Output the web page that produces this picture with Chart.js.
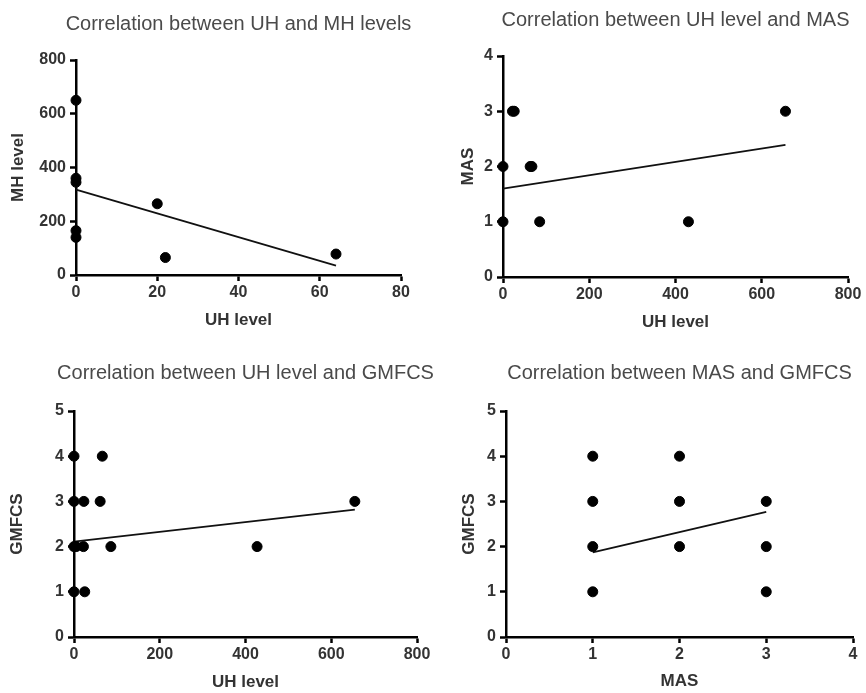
<!DOCTYPE html>
<html><head><meta charset="utf-8">
<script src="https://cdn.jsdelivr.net/npm/chart.js@4.4.1/dist/chart.umd.min.js"></script>
<style>
html,body{margin:0;padding:0;background:#fff;}
#wrap{position:relative;width:866px;height:693px;}
#wrap canvas{position:absolute;left:0;top:0;}
</style></head><body>
<div id="wrap">
<canvas id="c1" width="866" height="693"></canvas>
<canvas id="c2" width="866" height="693"></canvas>
<canvas id="c3" width="866" height="693"></canvas>
<canvas id="c4" width="866" height="693"></canvas>
</div>
<script>
// ---- text ----
const panelTitles = [
  'Correlation between UH and MH levels',
  'Correlation between UH level and MAS',
  'Correlation between UH level and GMFCS',
  'Correlation between MAS and GMFCS'
];
const xAxisTitles = ['UH level', 'UH level', 'UH level', 'MAS'];
const yAxisTitles = ['MH level', 'MAS', 'GMFCS', 'GMFCS'];

// ---- tick labels ----
const xTicks1 = [0, 20, 40, 60, 80];
const yTicks1 = [0, 200, 400, 600, 800];
const xTicks2 = [0, 200, 400, 600, 800];
const yTicks2 = [0, 1, 2, 3, 4];
const xTicks3 = [0, 200, 400, 600, 800];
const yTicks3 = [0, 1, 2, 3, 4, 5];
const xTicks4 = [0, 1, 2, 3, 4];
const yTicks4 = [0, 1, 2, 3, 4, 5];

// ---- data: UH vs MH ----
const uhMhX = [0, 0, 0, 0, 0, 20, 22, 64];
const uhMhY = [650, 360, 345, 165, 140, 265, 65, 78];
const uhMhFitX = [0, 64];
const uhMhFitY = [318, 35];

// ---- data: UH vs MAS ----
const uhMasX = [0, 0, 22, 26, 63, 67, 85, 430, 655];
const uhMasY = [1, 2, 3, 3, 2, 2, 1, 1, 3];
const uhMasFitX = [0, 655];
const uhMasFitY = [1.6, 2.39];

// ---- data: UH vs GMFCS ----
const uhGmX = [0, 0, 0, 5, 0, 66, 23, 61, 655, 22, 86, 427, 25];
const uhGmY = [4, 3, 2, 2, 1, 4, 3, 3, 3, 2, 2, 2, 1];
const uhGmFitX = [0, 655];
const uhGmFitY = [2.11, 2.82];

// ---- data: MAS vs GMFCS ----
const masGmX = [1, 1, 1, 1, 2, 2, 2, 3, 3, 3];
const masGmY = [4, 3, 2, 1, 4, 3, 2, 3, 2, 1];
const masGmFitX = [1, 3];
const masGmFitY = [1.87, 2.77];

// ---- layout (pixel positions, not data) ----
const W = 866, H = 693;
const FONT = '"Liberation Sans", Arial, Helvetica, sans-serif';
const layouts = [
  {L: 76,  R: 401, T: 60,  B: 275, yTitleX: 18,  xTitleY: 320, titleY: 24},
  {L: 503, R: 848, T: 56,  B: 277, yTitleX: 468, xTitleY: 322, titleY: 20},
  {L: 74,  R: 417, T: 411, B: 637, yTitleX: 17,  xTitleY: 682, titleY: 373},
  {L: 506, R: 853, T: 411, B: 637, yTitleX: 469, xTitleY: 681, titleY: 373}
];

const panelTitlePlugin = {
  id: 'panelTitle',
  afterDraw(chart, args, opts) {
    const ca = chart.chartArea;
    const ctx = chart.ctx;
    ctx.save();
    ctx.font = '20px ' + FONT;
    ctx.fillStyle = '#4a4a4a';
    ctx.textAlign = 'center';
    ctx.textBaseline = 'middle';
    ctx.fillText(opts.text, (ca.left + ca.right) / 2, opts.y);
    ctx.restore();
  }
};

function toPts(xs, ys) { return xs.map((x, i) => ({x: x, y: ys[i]})); }

function makeChart(id, idx, xs, ys, fx, fy, xt, yt) {
  const lay = layouts[idx];
  const lh = 17 * 1.2;
  const pl = lay.yTitleX - lh / 2;
  const yw = lay.L - pl;
  const pb = Math.max(0, H - lay.xTitleY - lh / 2);
  const xh = H - pb - lay.B;
  const tickFont = {family: FONT, size: 16, weight: 'bold'};
  const titleFont = {family: FONT, size: 17, weight: 'bold', lineHeight: 1.2};
  const grid = {display: true, drawOnChartArea: false, drawTicks: true, tickLength: 6,
                tickWidth: 2.5, tickColor: '#000', color: '#000'};
  const border = {display: true, color: '#000', width: 2.5};
  return new Chart(document.getElementById(id), {
    type: 'scatter',
    data: {
      datasets: [
        {data: toPts(xs, ys), backgroundColor: '#000', borderColor: '#000',
         pointRadius: 5, pointHoverRadius: 5, showLine: false, clip: false},
        {type: 'line', data: toPts(fx, fy), borderColor: '#111', borderWidth: 1.8,
         pointRadius: 0, fill: false, tension: 0, clip: false}
      ]
    },
    options: {
      responsive: false, animation: false, devicePixelRatio: 1,
      layout: {padding: {left: pl, right: W - lay.R, top: lay.T, bottom: pb}},
      plugins: {
        legend: {display: false}, tooltip: {enabled: false}, title: {display: false},
        panelTitle: {text: panelTitles[idx], y: lay.titleY}
      },
      scales: {
        x: {
          type: 'linear', position: 'bottom',
          min: xt[0], max: xt[xt.length - 1],
          grid: grid, border: border,
          ticks: {stepSize: xt[1] - xt[0], font: tickFont, color: '#333', padding: 2, maxRotation: 0},
          title: {display: true, text: xAxisTitles[idx], font: titleFont, color: '#333', padding: 0},
          afterFit(s) { s.height = xh; }
        },
        y: {
          type: 'linear', position: 'left',
          min: yt[0], max: yt[yt.length - 1],
          grid: grid, border: border,
          ticks: {stepSize: yt[1] - yt[0], font: tickFont, color: '#333', padding: 4},
          title: {display: true, text: yAxisTitles[idx], font: titleFont, color: '#333', padding: 0},
          afterFit(s) { s.width = yw; }
        }
      }
    },
    plugins: [panelTitlePlugin]
  });
}

makeChart('c1', 0, uhMhX, uhMhY, uhMhFitX, uhMhFitY, xTicks1, yTicks1);
makeChart('c2', 1, uhMasX, uhMasY, uhMasFitX, uhMasFitY, xTicks2, yTicks2);
makeChart('c3', 2, uhGmX, uhGmY, uhGmFitX, uhGmFitY, xTicks3, yTicks3);
makeChart('c4', 3, masGmX, masGmY, masGmFitX, masGmFitY, xTicks4, yTicks4);
</script>
</body></html>
